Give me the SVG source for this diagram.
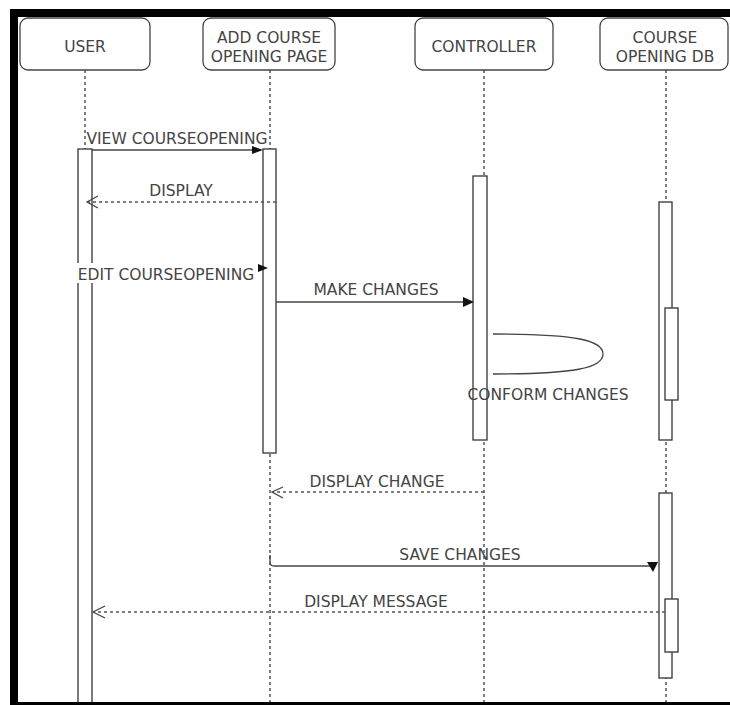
<svg xmlns="http://www.w3.org/2000/svg" width="730" height="705" viewBox="0 0 730 705">
<style>
.box{fill:#fff;stroke:#444;stroke-width:1.3}
.act{fill:#fff;stroke:#333;stroke-width:1.3}
.life{stroke:#555;stroke-width:1.5;stroke-dasharray:3 3;fill:none}
.msg{stroke:#444;stroke-width:1.3;fill:none}
.ret{stroke:#555;stroke-width:1.5;stroke-dasharray:3 3;fill:none}
.open{stroke:#444;stroke-width:1.3;fill:none}
.head{fill:#111;stroke:none}
text{font-family:"DejaVu Sans",Verdana,sans-serif;font-size:15.5px;fill:#444;text-anchor:middle}
</style>
<rect width="730" height="705" fill="#fff"/>

<g id="lifelines">
<line class="life" x1="85" y1="70" x2="85" y2="149"/>
<line class="life" x1="270" y1="70" x2="270" y2="702"/>
<line class="life" x1="484" y1="70" x2="484" y2="702"/>
<line class="life" x1="666" y1="70" x2="666" y2="702"/>
</g>

<g id="user">
<rect class="box" x="20" y="18" width="130" height="52" rx="8"/>
<text x="85" y="52">USER</text>
<rect class="act" x="78" y="149" width="14" height="556"/>
</g>

<g id="page">
<rect class="box" x="203" y="18" width="132" height="52" rx="8"/>
<text x="269" y="43">ADD COURSE</text>
<text x="269" y="62">OPENING PAGE</text>
<rect class="act" x="263" y="149" width="13" height="304"/>
</g>

<g id="controller">
<rect class="box" x="415" y="18" width="138" height="52" rx="8"/>
<text x="484" y="52">CONTROLLER</text>
<rect class="act" x="473" y="176" width="14" height="264"/>
</g>

<g id="db">
<rect class="box" x="600" y="18" width="128" height="52" rx="8"/>
<text x="665" y="43">COURSE</text>
<text x="665" y="62">OPENING DB</text>
<rect class="act" x="659" y="202" width="13" height="238"/>
<rect class="act" x="665" y="308" width="13" height="92"/>
<rect class="act" x="659" y="493" width="13" height="185"/>
<rect class="act" x="665" y="599" width="13" height="53"/>
</g>

<g id="connectors">
<line class="msg" x1="92" y1="150" x2="254" y2="150"/>
<polygon class="head" points="252,146 263,150 252,154"/>
<text x="177" y="144">VIEW COURSEOPENING</text>

<line class="ret" x1="276" y1="202" x2="88" y2="202"/>
<polyline class="open" points="98,196 87,202 98,208"/>
<text x="181" y="196">DISPLAY</text>

<line class="msg" x1="92" y1="268" x2="260" y2="268"/>
<polygon class="head" points="258,264 268,268 258,272"/>
<rect x="74" y="263" width="184" height="20" fill="#fff"/>
<text x="166" y="280">EDIT COURSEOPENING</text>

<line class="msg" x1="276" y1="302" x2="466" y2="302"/>
<polygon class="head" points="463,297 474,302 463,307"/>
<text x="376" y="295">MAKE CHANGES</text>

<path class="msg" d="M493,334 C575,334 603,340 603,354 C603,368 575,374 493,374"/>
<text x="548" y="400">CONFORM CHANGES</text>

<line class="ret" x1="484" y1="492" x2="273" y2="492"/>
<polyline class="open" points="283,487 272,492 283,498"/>
<text x="377" y="487">DISPLAY CHANGE</text>

<path class="msg" d="M270,555 L270,562 Q270,566 274,566 L652,566"/>
<polygon class="head" points="647,562 658,562 653,572"/>
<text x="460" y="560">SAVE CHANGES</text>

<line class="ret" x1="665" y1="612" x2="94" y2="612"/>
<polyline class="open" points="105,606 93,612 105,618"/>
<text x="376" y="607">DISPLAY MESSAGE</text>
</g>

<g id="frame">
<rect x="10" y="9" width="720" height="8" fill="#000"/>
<rect x="10" y="9" width="8" height="696" fill="#000"/>
<rect x="10" y="702" width="720" height="3" fill="#000"/>
</g>
</svg>
